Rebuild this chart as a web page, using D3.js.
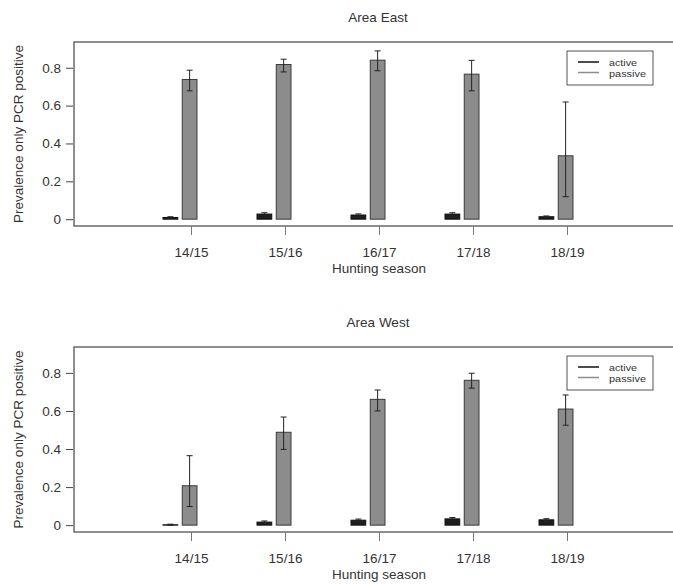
<!DOCTYPE html>
<html>
<head>
<meta charset="utf-8">
<script src="https://cdn.jsdelivr.net/npm/d3@7"></script>
<style>
  body { margin: 0; background: #fff; }
  svg { display: block; font-family: "Liberation Sans", Arial, sans-serif; }
</style>
</head>
<body>
<div id="chart"></div>
<script>
// data
var seasons = ["14/15", "15/16", "16/17", "17/18", "18/19"];
var groups = ["active", "passive"];
var yTicks = [0, 0.2, 0.4, 0.6, 0.8];

var eastActive = [0.009, 0.027, 0.022, 0.027, 0.013];
var eastActiveLo = [0.005, 0.020, 0.016, 0.021, 0.009];
var eastActiveHi = [0.013, 0.034, 0.028, 0.034, 0.017];
var eastPassive = [0.738, 0.817, 0.840, 0.766, 0.335];
var eastPassiveLo = [0.678, 0.778, 0.784, 0.678, 0.119];
var eastPassiveHi = [0.787, 0.845, 0.889, 0.839, 0.619];

var westActive = [0.002, 0.016, 0.026, 0.033, 0.028];
var westActiveLo = [0.000, 0.010, 0.020, 0.026, 0.022];
var westActiveHi = [0.005, 0.022, 0.032, 0.040, 0.034];
var westPassive = [0.207, 0.488, 0.661, 0.761, 0.610];
var westPassiveLo = [0.098, 0.398, 0.600, 0.720, 0.525];
var westPassiveHi = [0.365, 0.568, 0.710, 0.798, 0.684];

var W = 673, H = 584;
var svg = d3.select("#chart").append("svg")
    .attr("width", W)
    .attr("height", H);

var ink = "#333";

function panel(opt) {
    var left = 74, right = 690;
    var g = svg.append("g");

    var x = d3.scalePoint().domain(seasons).range([191, 567]);
    var x1 = d3.scaleBand().domain(groups).range([-28, 6]).paddingInner(0.234);
    var y = d3.scaleLinear().domain([-0.036, 0.936]).range([opt.bottom, opt.top]);

    var rows = [];
    seasons.forEach(function(s, i) {
        rows.push({s: s, k: "active", v: opt.active[i], lo: opt.activeLo[i], hi: opt.activeHi[i]});
        rows.push({s: s, k: "passive", v: opt.passive[i], lo: opt.passiveLo[i], hi: opt.passiveHi[i]});
    });

    g.selectAll(".bar").data(rows).enter().append("rect")
        .attr("class", "bar")
        .attr("x", d => x(d.s) + x1(d.k))
        .attr("y", d => y(d.v))
        .attr("width", x1.bandwidth())
        .attr("height", d => y(0) - y(d.v))
        .attr("fill", d => d.k === "active" ? "#1e1e1e" : "#8c8c8c")
        .attr("stroke", d => d.k === "active" ? "#111" : "#3a3a3a")
        .attr("stroke-width", 1);

    // error bars
    var eb = g.selectAll(".err").data(rows).enter().append("g").attr("class", "err")
        .attr("stroke", "#222").attr("stroke-width", 1);
    var cx = d => x(d.s) + x1(d.k) + x1.bandwidth() / 2;
    eb.append("line")
        .attr("x1", cx).attr("x2", cx)
        .attr("y1", d => y(d.lo)).attr("y2", d => y(d.hi));
    eb.append("line")
        .attr("x1", d => cx(d) - 3).attr("x2", d => cx(d) + 3)
        .attr("y1", d => y(d.lo)).attr("y2", d => y(d.lo));
    eb.append("line")
        .attr("x1", d => cx(d) - 3).attr("x2", d => cx(d) + 3)
        .attr("y1", d => y(d.hi)).attr("y2", d => y(d.hi));

    // frame
    g.append("rect")
        .attr("x", left).attr("y", opt.top)
        .attr("width", right - left).attr("height", opt.bottom - opt.top)
        .attr("fill", "none").attr("stroke", "#444").attr("stroke-width", 1.2);

    // y axis
    var ya = g.append("g")
        .attr("transform", "translate(" + (left - 1) + ",0)")
        .call(d3.axisLeft(y).tickValues(yTicks).tickSize(7).tickPadding(5)
            .tickFormat(d => d === 0 ? "0" : d3.format(".1f")(d)));
    ya.select(".domain").remove();
    ya.selectAll("line").attr("stroke", "#444");
    ya.selectAll("text").attr("font-size", 13.5).attr("fill", ink).attr("font-family", null);

    // x axis
    var xa = g.append("g")
        .attr("transform", "translate(0," + opt.bottom + ")")
        .call(d3.axisBottom(x).tickSize(9).tickPadding(12));
    xa.select(".domain").remove();
    xa.selectAll("line").attr("stroke", "#777");
    xa.selectAll("text").attr("font-size", 13.5).attr("fill", ink).attr("font-family", null);

    g.append("text")
        .attr("x", 379).attr("y", opt.bottom + 47)
        .attr("text-anchor", "middle").attr("font-size", 13.5).attr("fill", ink)
        .text("Hunting season");

    g.append("text")
        .attr("transform", "translate(23," + (opt.top + opt.bottom) / 2 + ") rotate(-90)")
        .attr("text-anchor", "middle").attr("font-size", 13.5).attr("fill", ink)
        .text("Prevalence only PCR positive");

    g.append("text")
        .attr("x", 378).attr("y", opt.top - 20)
        .attr("text-anchor", "middle").attr("font-size", 13.5).attr("fill", ink)
        .text(opt.title);

    // legend
    var lg = g.append("g").attr("transform", "translate(567," + (opt.top + 9) + ")");
    lg.append("rect").attr("width", 86).attr("height", 34)
        .attr("fill", "#fff").attr("stroke", "#555").attr("stroke-width", 1);
    lg.selectAll(".lk").data(groups).enter().append("line")
        .attr("x1", 11).attr("x2", 32)
        .attr("y1", (d, i) => 11 + i * 10.5).attr("y2", (d, i) => 11 + i * 10.5)
        .attr("stroke", d => d === "active" ? "#111" : "#8c8c8c")
        .attr("stroke-width", 1.5);
    lg.selectAll(".lt").data(groups).enter().append("text")
        .attr("x", 42).attr("y", (d, i) => 14.5 + i * 11)
        .attr("font-size", 9.5).attr("fill", ink)
        .attr("textLength", d => d === "active" ? 28 : 37)
        .attr("lengthAdjust", "spacingAndGlyphs")
        .text(d => d);
}

panel({title: "Area East", top: 42, bottom: 226,
    active: eastActive, activeLo: eastActiveLo, activeHi: eastActiveHi,
    passive: eastPassive, passiveLo: eastPassiveLo, passiveHi: eastPassiveHi});

panel({title: "Area West", top: 347, bottom: 532,
    active: westActive, activeLo: westActiveLo, activeHi: westActiveHi,
    passive: westPassive, passiveLo: westPassiveLo, passiveHi: westPassiveHi});
</script>
</body>
</html>
